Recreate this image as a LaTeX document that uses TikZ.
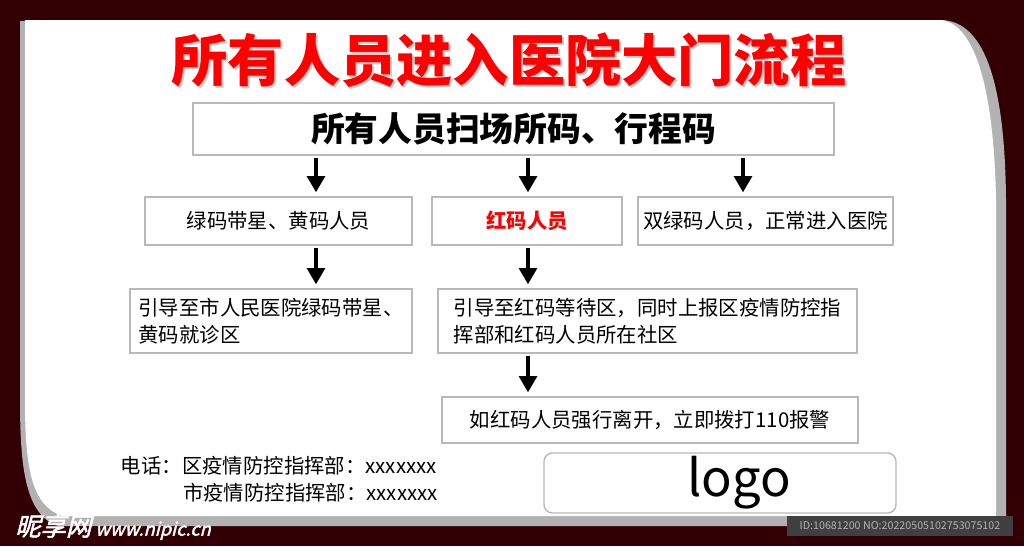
\documentclass[tikz,border=0pt]{standalone}
\usepackage{fontspec}
\setmainfont{Noto Sans CJK SC}
\newfontfamily\markfont[FakeSlant=0.25,FakeBold=2]{Noto Sans CJK SC}
\usepackage{tikz,xcolor}
\usetikzlibrary{arrows.meta}
\newcommand{\px}{0.025cm}
\definecolor{wine}{RGB}{50,0,4}
\definecolor{edgegrey}{RGB}{185,185,185}
\definecolor{shadegrey}{RGB}{178,178,178}
\tikzstyle{box} = [draw=edgegrey, line width=1pt, fill=white, inner sep=0pt, text centered, font=\fontsize{14.5}{19.5}\selectfont]
\tikzstyle{flow} = [line width=2.6pt, -{Triangle[length=11.5pt,width=12.5pt]}, shorten >=2.8pt, shorten <=1.4pt]
\tikzstyle{note} = [inner sep=0pt, font=\fontsize{14.5}{19.5}\selectfont]

\begin{document}
\begin{tikzpicture}[x=\px, y=-\px]
\useasboundingbox (0,0) rectangle (1024,546);
\fill[wine] (0,0) rectangle (1024,546);
\fill[shadegrey] (20,21) -- (940,20) .. controls (987,20) and (1005,90) .. (1006,200)
    -- (1006,526) -- (58,526) .. controls (26,515) and (20,470) .. (20,400) -- cycle;
\fill[white] (25,20) -- (938,20) .. controls (975,20) and (994,90) .. (996,200)
    -- (996,516) -- (62,516) .. controls (32,505) and (25,470) .. (25,400) -- cycle;

\node[text=black!20, font=\fontsize{40}{41}\bfseries] at (511,62) {所有人员进入医院大门流程};
\node[text=red, font=\fontsize{40}{41}\bfseries] (title) at (509,60) {所有人员进入医院大门流程};

\node[box, minimum width=641*\px, minimum height=52*\px, font=\fontsize{24}{26}\bfseries] (scan) at (513.5,129) {所有人员扫场所码、行程码};

\node[box, minimum width=267*\px, minimum height=48*\px] (yellow) at (278.5,221) {绿码带星、黄码人员};
\node[box, minimum width=190*\px, minimum height=48*\px, text=red, font=\fontsize{14.5}{19.5}\bfseries] (red) at (527,221) {红码人员};
\node[box, minimum width=255*\px, minimum height=48*\px] (green) at (765.5,221) {双绿码人员，正常进入医院};

\node[box, minimum width=282*\px, minimum height=64*\px, align=left] (yellowgo) at (271,321) {引导至市人民医院绿码带星、\\黄码就诊区};
\node[box, minimum width=419*\px, minimum height=64*\px, align=left] (redwait) at (647.5,321) {引导至红码等待区，同时上报区疫情防控指\\挥部和红码人员所在社区};

\node[box, minimum width=416*\px, minimum height=46*\px] (redcall) at (650,420) {如红码人员强行离开，立即拨打110报警};

\coordinate (left) at (316,0);
\coordinate (mid) at (528,0);
\coordinate (right) at (743,0);

\draw[flow] (scan.south -| left) -- (yellow.north -| left);
\draw[flow] (scan.south -| mid) -- (red.north -| mid);
\draw[flow] (scan.south -| right) -- (green.north -| right);
\draw[flow] (yellow.south -| left) -- (yellowgo.north -| left);
\draw[flow] (red.south -| mid) -- (redwait.north -| mid);
\draw[flow] (redwait.south -| mid) -- (redcall.north -| mid);

\node[note, anchor=east] (phonedist) at (437,466) {电话：区疫情防控指挥部：xxxxxxx};
\node[note, anchor=east] (phonecity) at (438,493) {市疫情防控指挥部：xxxxxxx};

\node[box, rounded corners=6pt, minimum width=352*\px, minimum height=60*\px] (logo) at (720,483) {};
\node[inner sep=0pt, font=\fontsize{36}{38}\selectfont] (logotext) at ([xshift=19*\px]logo.center) {logo};

\fill[black!75] (787,516) rectangle (1013,536);
\node[inner sep=0pt, text=black!30, font=\fontsize{7.6}{8}\selectfont] (stamp) at (900,526) {ID:10681200 NO:20220505102753075102};
\node[inner sep=0pt, anchor=west, text=white, font=\markfont\fontsize{13}{14}\selectfont] (mark) at (15,527) {{\fontsize{18}{19}\selectfont 昵享网} www.nipic.cn};
\end{tikzpicture}
\end{document}
